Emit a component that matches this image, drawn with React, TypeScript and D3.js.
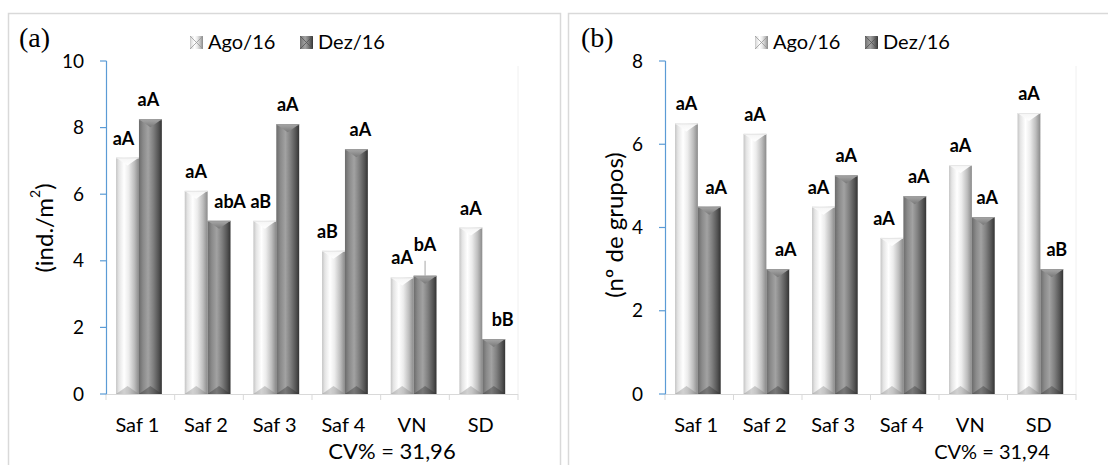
import React from 'react';
import * as d3 from 'd3';

const categories = ['Saf 1', 'Saf 2', 'Saf 3', 'Saf 4', 'VN', 'SD'];
const seriesNames = ['Ago/16', 'Dez/16'];

const densAgo = [7.1, 6.1, 5.2, 4.3, 3.5, 5.0];
const densDez = [8.25, 5.2, 8.1, 7.35, 3.55, 1.65];
const densLabAgo = ['aA', 'aA', 'aB', 'aB', 'aA', 'aA'];
const densLabDez = ['aA', 'abA', 'aA', 'aA', 'bA', 'bB'];
const densTicks = [0, 2, 4, 6, 8, 10];

const grupAgo = [6.5, 6.25, 4.5, 3.75, 5.5, 6.75];
const grupDez = [4.5, 3.0, 5.25, 4.75, 4.25, 3.0];
const grupLabAgo = ['aA', 'aA', 'aA', 'aA', 'aA', 'aA'];
const grupLabDez = ['aA', 'aA', 'aA', 'aA', 'aA', 'aB'];
const grupTicks = [0, 2, 4, 6, 8];

// label nudges (style only)
const densDxAgo = [-4, 0, -4, -6, 0, 0];
const densDxDez = [-2, 11, 0, 4, 0, 9];
const grupDxAgo = [0, 0, -5, -8, 0, 0];
const grupDxDez = [7, 8, 0, 4, 4, 5];

const FONT = 'Lato, "Open Sans", sans-serif';

type PanelProps = {
  ox: number;
  axisX: number;
  plotW: number;
  tag: string;
  tagX: number;
  legendX: number;
  yTitle: React.ReactNode;
  yTitleX: number;
  yTitleY: number;
  yMax: number;
  ticks: number[];
  ago: number[];
  dez: number[];
  labAgo: string[];
  labDez: string[];
  dxAgo: number[];
  dxDez: number[];
  leaderIdx: number;
  cv: string;
  cvX: number;
  cvSize: number;
};

function Bar({ x, y, w, h, dark }: { x: number; y: number; w: number; h: number; dark: boolean }) {
  const cap = Math.min(8, h / 2);
  const mid = x + w / 2;
  const bot = y + h;
  return (
    <g>
      <rect x={x} y={y} width={w} height={h} fill={dark ? 'url(#gDark)' : 'url(#gLight)'} />
      <path d={`M${x},${y} L${x + w},${y} L${mid},${y + cap} Z`} fill={dark ? 'url(#capDark)' : 'url(#capLight)'} />
      <path d={`M${x},${bot} L${x + w},${bot} L${mid},${bot - cap} Z`} fill={dark ? '#2a2a2a' : '#7a7a7a'} opacity={0.35} />
      <line x1={x} x2={x + w} y1={y + 0.5} y2={y + 0.5} stroke={dark ? '#9a9a9a' : '#e6e6e6'} strokeWidth={1} />
    </g>
  );
}

function Panel(p: PanelProps) {
  const axisX = p.axisX;
  const plotW = p.plotW;
  const yTop = 61;
  const yZero = 394;
  const x0 = d3.scaleBand<string>().domain(categories).range([axisX, axisX + plotW]).paddingInner(0).paddingOuter(0);
  const x1 = d3
    .scaleBand<string>()
    .domain(seriesNames)
    .range([0, x0.bandwidth()])
    .paddingInner(0)
    .paddingOuter(0.5)
    .align(0.44);
  const y = d3.scaleLinear().domain([0, p.yMax]).range([yZero, yTop]);
  const bw = x1.bandwidth();
  const bounds = categories.map((c) => x0(c) as number).concat([axisX + plotW]);

  return (
    <g fontFamily={FONT}>
      <rect x={p.ox + 8.5} y={13.5} width={552} height={470} fill="white" stroke="#d9d9d9" strokeWidth={1.5} />
      <text x={p.tagX} y={47} fontFamily='"Liberation Serif", "Times New Roman", serif' fontSize={28} fill="#000">
        {p.tag}
      </text>
      {seriesNames.map((s, i) => {
        const lx = p.legendX + i * 110;
        return (
          <g key={s}>
            <rect x={lx} y={36} width={13} height={13} fill={i === 1 ? 'url(#gDark)' : 'url(#gLight)'} />
            <path
              d={`M${lx},${36} L${lx + 13},${49} M${lx + 13},${36} L${lx},${49}`}
              stroke={i === 1 ? '#555' : '#999'}
              strokeWidth={0.8}
            />
            <text x={lx + 18} y={49} fontSize={20} fill="#000">
              {s}
            </text>
          </g>
        );
      })}
      <line x1={axisX + plotW} x2={axisX + plotW} y1={yTop + 5} y2={yZero} stroke="#f0f0f0" strokeWidth={1} />
      <line x1={axisX} x2={axisX + plotW} y1={yZero + 0.5} y2={yZero + 0.5} stroke="#d9d9d9" strokeWidth={1} />
      {bounds.map((b, i) => (
        <line key={i} x1={b} x2={b} y1={yZero} y2={yZero + 6} stroke="#d9d9d9" strokeWidth={1} />
      ))}
      {categories.map((c, i) => {
        const bx = x0(c) as number;
        const xa = bx + (x1(seriesNames[0]) as number);
        const xd = bx + (x1(seriesNames[1]) as number);
        return (
          <g key={c}>
            <Bar x={xa} y={y(p.ago[i])} w={bw} h={yZero - y(p.ago[i])} dark={false} />
            <Bar x={xd} y={y(p.dez[i])} w={bw} h={yZero - y(p.dez[i])} dark={true} />
          </g>
        );
      })}
      {categories.map((c, i) => {
        const bx = x0(c) as number;
        const xa = bx + (x1(seriesNames[0]) as number) + bw / 2;
        const xd = bx + (x1(seriesNames[1]) as number) + bw / 2;
        const lead = i === p.leaderIdx;
        const yd = y(p.dez[i]) - 13 - (lead ? 12 : 0);
        return (
          <g key={c} fontWeight="bold" fontSize={18} textAnchor="middle" fill="#000">
            <text x={xa + p.dxAgo[i]} y={y(p.ago[i]) - 13}>
              {p.labAgo[i]}
            </text>
            <text x={xd + p.dxDez[i]} y={yd}>
              {p.labDez[i]}
            </text>
            {lead && <line x1={xd} x2={xd} y1={yd + 10} y2={y(p.dez[i])} stroke="#a6a6a6" strokeWidth={1} />}
          </g>
        );
      })}
      <line x1={axisX + 0.5} x2={axisX + 0.5} y1={yTop} y2={yZero} stroke="#5b9bd5" strokeWidth={1.2} />
      {p.ticks.map((t) => (
        <g key={t}>
          <line x1={axisX - 6} x2={axisX + 0.5} y1={y(t)} y2={y(t)} stroke="#5b9bd5" strokeWidth={1.2} />
          <text x={axisX - 22} y={y(t) + 6.5} fontSize={19} textAnchor="end" fill="#000">
            {t}
          </text>
        </g>
      ))}
      {categories.map((c) => (
        <text key={c} x={(x0(c) as number) + x0.bandwidth() / 2 - 3} y={432} fontSize={20} textAnchor="middle" fill="#000">
          {c}
        </text>
      ))}
      <text x={p.cvX} y={459} fontSize={p.cvSize} textAnchor="middle" fill="#000">
        {p.cv}
      </text>
      <text
        transform={`translate(${p.yTitleX},${p.yTitleY}) rotate(-90)`}
        fontSize={24}
        textAnchor="middle"
        dominantBaseline="central"
        fill="#000"
      >
        {p.yTitle}
      </text>
    </g>
  );
}

export default function App() {
  return (
    <svg
      width={1108}
      height={465}
      style={{ position: 'absolute', left: 0, top: 0, background: '#fff' }}
      xmlns="http://www.w3.org/2000/svg"
    >
      <defs>
        <linearGradient id="gLight" x1="0" x2="1" y1="0" y2="0">
          <stop offset="0%" stopColor="#c4c4c4" />
          <stop offset="12%" stopColor="#e4e4e4" />
          <stop offset="35%" stopColor="#ffffff" />
          <stop offset="55%" stopColor="#ececec" />
          <stop offset="80%" stopColor="#bdbdbd" />
          <stop offset="100%" stopColor="#8a8a8a" />
        </linearGradient>
        <linearGradient id="gDark" x1="0" x2="1" y1="0" y2="0">
          <stop offset="0%" stopColor="#6c6c6c" />
          <stop offset="18%" stopColor="#8a8a8a" />
          <stop offset="40%" stopColor="#a2a2a2" />
          <stop offset="62%" stopColor="#808080" />
          <stop offset="85%" stopColor="#555555" />
          <stop offset="100%" stopColor="#333333" />
        </linearGradient>
        <linearGradient id="capLight" x1="0" x2="0" y1="0" y2="1">
          <stop offset="0%" stopColor="#f4f4f4" />
          <stop offset="100%" stopColor="#ffffff" />
        </linearGradient>
        <linearGradient id="capDark" x1="0" x2="0" y1="0" y2="1">
          <stop offset="0%" stopColor="#a8a8a8" />
          <stop offset="100%" stopColor="#787878" />
        </linearGradient>
      </defs>
      <rect x={0} y={0} width={1108} height={465} fill="#fff" />
      <Panel
        ox={0}
        axisX={106}
        plotW={412}
        tag="(a)"
        tagX={19}
        legendX={190}
        yTitle={
          <>
            (ind./m<tspan baselineShift="super" fontSize={14}>2</tspan>)
          </>
        }
        yTitleX={43}
        yTitleY={228}
        yMax={10}
        ticks={densTicks}
        ago={densAgo}
        dez={densDez}
        labAgo={densLabAgo}
        labDez={densLabDez}
        dxAgo={densDxAgo}
        dxDez={densDxDez}
        leaderIdx={4}
        cv="CV% = 31,96"
        cvX={392}
        cvSize={22}
      />
      <Panel
        ox={560}
        axisX={665}
        plotW={411}
        tag="(b)"
        tagX={581}
        legendX={755}
        yTitle="(nº de grupos)"
        yTitleX={613}
        yTitleY={225}
        yMax={8}
        ticks={grupTicks}
        ago={grupAgo}
        dez={grupDez}
        labAgo={grupLabAgo}
        labDez={grupLabDez}
        dxAgo={grupDxAgo}
        dxDez={grupDxDez}
        leaderIdx={-1}
        cv="CV% = 31,94"
        cvX={992}
        cvSize={20}
      />
    </svg>
  );
}
